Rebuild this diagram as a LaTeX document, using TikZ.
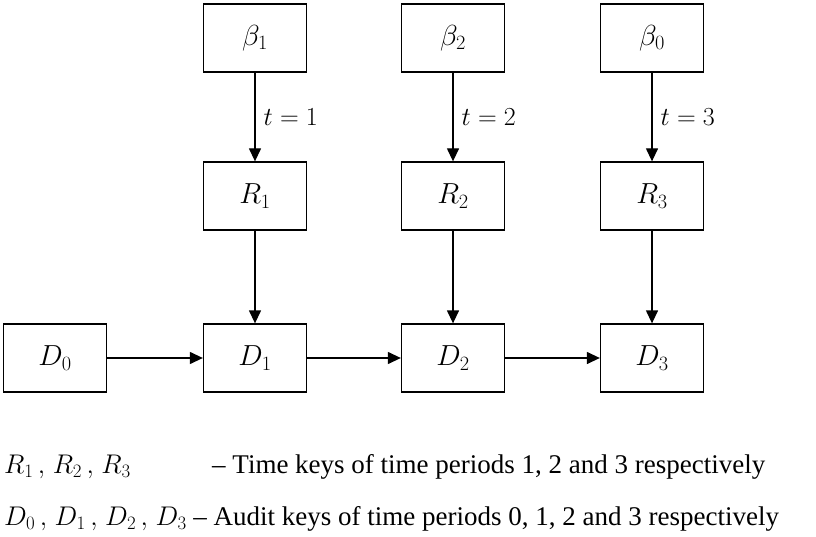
\RequirePackage{fix-cm}
\documentclass[tikz,border=0pt]{standalone}
\usepackage{fontspec}
\setmainfont{Liberation Serif}
\usetikzlibrary{arrows.meta}
\begin{document}
\begin{tikzpicture}[x=1pt,y=-1pt,
  keybox/.style={draw,line width=1.3pt,minimum width=103pt,minimum height=68pt,inner sep=0pt,font=\fontsize{29}{34}\selectfont},
  link/.style={line width=1.3pt,-{Triangle[length=13pt,width=12pt]}},
  tlabel/.style={anchor=west,inner sep=0pt,font=\fontsize{26}{30}\selectfont},
  legend/.style={anchor=base west,inner sep=0pt,font=\fontsize{27}{32}\selectfont}]
\useasboundingbox (0,0) rectangle (816,537);
\node[keybox] (b1) at (255,38) {$\beta_1$};
\node[keybox] (b2) at (453,38) {$\beta_2$};
\node[keybox] (b0) at (652,38) {$\beta_0$};
\node[keybox] (r1) at (255,196) {$R_1$};
\node[keybox] (r2) at (453,196) {$R_2$};
\node[keybox] (r3) at (652,196) {$R_3$};
\node[keybox] (d0) at (55,358) {$D_0$};
\node[keybox] (d1) at (255,358) {$D_1$};
\node[keybox] (d2) at (453,358) {$D_2$};
\node[keybox] (d3) at (652,358) {$D_3$};
\draw[link] (b1) -- node[tlabel,pos=0.5,xshift=8pt] (l1) {$t=1$} (r1);
\draw[link] (b2) -- node[tlabel,pos=0.5,xshift=8pt] (l2) {$t=2$} (r2);
\draw[link] (b0) -- node[tlabel,pos=0.5,xshift=8pt] (l3) {$t=3$} (r3);
\draw[link] (r1) -- (d1);
\draw[link] (r2) -- (d2);
\draw[link] (r3) -- (d3);
\draw[link] (d0) -- (d1);
\draw[link] (d1) -- (d2);
\draw[link] (d2) -- (d3);
\node[legend] (leg1a) at (4,473) {$R_1\,,\mkern2mu R_2\,,\mkern2mu R_3$};
\node[legend] (leg1b) at (212,473) {– Time keys of time periods 1, 2 and 3 respectively};
\node[legend] (leg2) at (4,525) {$D_0\,,\mkern2mu D_1\,,\mkern2mu D_2\,,\mkern2mu D_3$ – Audit keys of time periods 0, 1, 2 and 3 respectively};
\end{tikzpicture}
\end{document}
